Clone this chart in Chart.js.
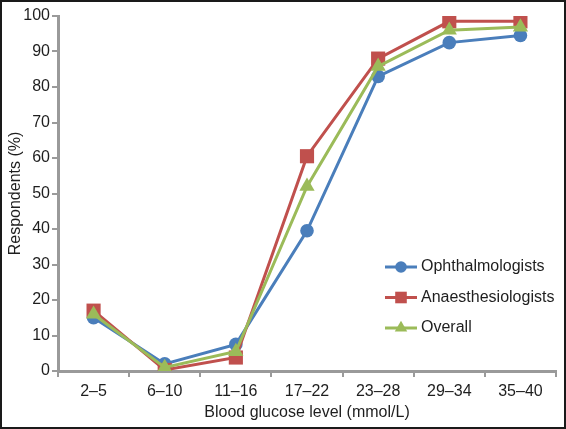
<!DOCTYPE html>
<html>
<head>
<meta charset="utf-8">
<style>
  html, body { margin: 0; padding: 0; background: #fff; }
  #wrap { position: relative; width: 566px; height: 429px; }
</style>
<script src="https://cdn.jsdelivr.net/npm/chart.js@4/dist/chart.umd.min.js"></script>
</head>
<body>
<div id="wrap"><canvas id="chart" width="566" height="429"></canvas></div>
<script>
const categories = ['2–5', '6–10', '11–16', '17–22', '23–28', '29–34', '35–40'];
const ophthalmologists = [15, 2, 7.5, 39.5, 83, 92.5, 94.5];
const anaesthesiologists = [17, 0.3, 3.8, 60.5, 88, 98.5, 98.5];
const overall = [16, 1, 5.5, 52, 85.8, 96, 96.9];
const yTicks = [0, 10, 20, 30, 40, 50, 60, 70, 80, 90, 100];

const BLUE = '#4A7EBB';
const RED = '#C0504D';
const GREEN = '#9BBB59';
const AXIS = '#9a9a9a';
const TEXT = '#1e1e1e';
const FONT = '"Liberation Sans", Arial, sans-serif';

Chart.defaults.font.family = FONT;
Chart.defaults.font.size = 16;
Chart.defaults.color = TEXT;

const series = [
    { label: 'Ophthalmologists', data: ophthalmologists, color: BLUE, style: 'circle', radius: 6.8, legendRadius: 5.8, order: 2 },
    { label: 'Anaesthesiologists', data: anaesthesiologists, color: RED, style: 'rect', radius: 10, legendRadius: 8.2, order: 1 },
    { label: 'Overall', data: overall, color: GREEN, style: 'triangle', radius: 8.8, legendRadius: 7.2, order: 0 },
];

// legend drawn as line + marker, like the office-style original
const lineLegend = {
    id: 'lineLegend',
    afterDraw(chart) {
        const { ctx } = chart;
        const rows = [267, 297.5, 328];
        ctx.save();
        series.forEach((s, i) => {
            const y = rows[i];
            const r = s.legendRadius;
            ctx.strokeStyle = s.color;
            ctx.lineWidth = 3;
            ctx.beginPath();
            ctx.moveTo(385, y);
            ctx.lineTo(417, y);
            ctx.stroke();
            ctx.fillStyle = s.color;
            ctx.beginPath();
            const x = 401;
            if (s.style === 'circle') {
                ctx.arc(x, y, r, 0, Math.PI * 2);
            } else if (s.style === 'rect') {
                const h = r * Math.SQRT1_2;
                ctx.rect(x - h, y - h, h * 2, h * 2);
            } else {
                let rad = 0;
                ctx.moveTo(x + Math.sin(rad) * r, y - Math.cos(rad) * r);
                rad += Math.PI * 2 / 3;
                ctx.lineTo(x + Math.sin(rad) * r, y - Math.cos(rad) * r);
                rad += Math.PI * 2 / 3;
                ctx.lineTo(x + Math.sin(rad) * r, y - Math.cos(rad) * r);
                ctx.closePath();
            }
            ctx.fill();
            ctx.fillStyle = TEXT;
            ctx.font = '16px ' + FONT;
            ctx.textBaseline = 'middle';
            ctx.fillText(s.label, 421, y);
        });
        ctx.strokeStyle = '#1a1a1a';
        ctx.lineWidth = 2;
        ctx.strokeRect(1, 1, chart.width - 2, chart.height - 2);
        ctx.restore();
    },
};

new Chart(document.getElementById('chart'), {
    type: 'line',
    data: {
        labels: categories,
        datasets: series.map((s) => ({
            label: s.label,
            data: s.data,
            order: s.order,
            borderColor: s.color,
            backgroundColor: s.color,
            borderWidth: 3,
            pointStyle: s.style,
            pointRadius: s.radius,
            pointHoverRadius: s.radius,
            pointBorderWidth: 0,
            tension: 0,
        })),
    },
    options: {
        responsive: false,
        animation: false,
        layout: { padding: { top: 16, right: 8, bottom: 0, left: 0 } },
        plugins: { legend: { display: false }, tooltip: { enabled: false } },
        scales: {
            x: {
                offset: true,
                grid: { offset: true, drawOnChartArea: false, drawTicks: true, tickLength: 6, color: AXIS, lineWidth: 2 },
                border: { color: AXIS, width: 3 },
                ticks: { padding: 5, color: TEXT, maxRotation: 0 },
                title: { display: true, text: 'Blood glucose level (mmol/L)', color: TEXT, padding: { top: 0, bottom: 7 } },
                afterFit: (scale) => { scale.height = 58; },
            },
            y: {
                min: 0,
                max: 100,
                afterBuildTicks: (scale) => { scale.ticks = yTicks.map((v) => ({ value: v })); },
                grid: { drawOnChartArea: false, drawTicks: true, tickLength: 6, color: AXIS, lineWidth: 2 },
                border: { color: AXIS, width: 3 },
                ticks: { padding: 2, color: TEXT },
                title: { display: true, text: 'Respondents (%)', color: TEXT, padding: { top: 6, bottom: 0 } },
                afterFit: (scale) => { scale.width = 58; },
            },
        },
    },
    plugins: [lineLegend],
});
</script>
</body>
</html>
